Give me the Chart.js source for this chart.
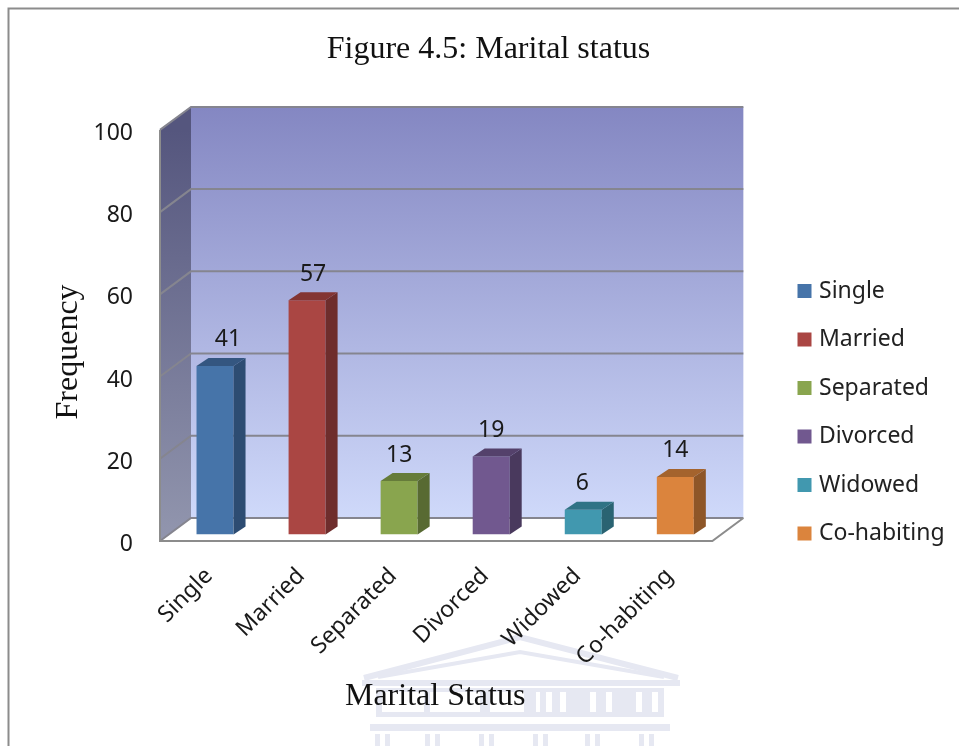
<!DOCTYPE html>
<html><head><meta charset="utf-8">
<script src="https://cdn.jsdelivr.net/npm/chart.js@4"></script>
<style>html,body{margin:0;padding:0;background:#fff}canvas{display:block}</style>
</head><body><canvas id="c" width="959" height="746"></canvas>
<script>
const categories = ["Single","Married","Separated","Divorced","Widowed","Co-habiting"];
const frequency = [41,57,13,19,6,14];
const yTicks = [0,20,40,60,80,100];
const frontColors = ["#4674A9","#AA4643","#89A54E","#71588F","#4198AF","#DB843D"];
const sideColors  = ["#2D4C72","#6E2D2C","#586A32","#49395D","#2A6372","#8E5628"];
const topColors   = ["#345680","#833533","#667C3A","#54416B","#307385","#A4632D"];
const labelShift = [13,6,0,0,-1,0];
const SANS = '"Noto Sans"', SERIF = '"Liberation Serif"';
const WALL = {dx:22, dy:-16.5}, FRONT = {dx:-9, dy:6.5}, BAR = {dx:12, dy:-8};

function poly(ctx, pts, fill, stroke, lw){
  ctx.beginPath(); pts.forEach((p,i)=> i?ctx.lineTo(p[0],p[1]):ctx.moveTo(p[0],p[1])); ctx.closePath();
  if(fill){ctx.fillStyle=fill;ctx.fill();}
  if(stroke){ctx.strokeStyle=stroke;ctx.lineWidth=lw||1;ctx.stroke();}
}
const scene = {
  id:'scene',
  afterLayout(chart){
    const t=chart.titleBlock; t.left+=38.5; t.right+=38.5;
    const l=chart.legend, dy=254-l.top, dx=776-l.left;
    l.top+=dy; l.bottom+=dy; l.left+=dx; l.right+=dx;
  },
  beforeDraw(chart){
    const c=chart.ctx;
    const xs=chart.scales.x, ys=chart.scales.y;
    if(!xs._moved){ xs._moved=true; const o=xs.drawTitle;
      xs.drawTitle=function(){c.save();c.translate(-10,0);o.apply(this,arguments);c.restore();}; }
    if(!ys._moved){ ys._moved=true; const o=ys.drawTitle;
      ys.drawTitle=function(){c.save();c.translate(0,23);o.apply(this,arguments);c.restore();}; }
    c.save();
    c.fillStyle='#fff'; c.fillRect(0,0,chart.width,chart.height);
    // page watermark
    c.fillStyle='#e6e8f2'; c.strokeStyle='#e6e8f2';
    c.lineWidth=6; c.beginPath(); c.moveTo(364,678); c.lineTo(520,637); c.lineTo(678,678); c.stroke();
    c.lineWidth=4; c.beginPath(); c.moveTo(378,677); c.lineTo(520,652); c.lineTo(664,677); c.stroke();
    c.fillRect(362,680,318,6); c.fillRect(376,688,288,4);
    [[376,6],[424,6],[480,10],[524,12],[540,6],[552,8],[566,24],[596,10],[612,24],[642,10],[658,6]].forEach(a=>c.fillRect(a[0],692,a[1],20));
    c.fillRect(376,712,288,5);
    c.fillRect(370,724,300,7);
    [382,432,486,540,592,646].forEach(x=>{c.fillRect(x-7,734,5,12);c.fillRect(x+3,734,5,12);});
    // frame
    c.strokeStyle='#8c8c8c'; c.lineWidth=2;
    c.beginPath(); c.moveTo(8.5,746); c.lineTo(8.5,8.5); c.lineTo(959,8.5); c.stroke();
    c.restore();
  },
  beforeDatasetsDraw(chart){
    const c=chart.ctx, a=chart.chartArea, y=chart.scales.y;
    const px=v=>y.getPixelForValue(v);
    const wl=a.left+WALL.dx, wr=a.right+WALL.dx, fl=a.left+FRONT.dx, fr=a.right+FRONT.dx;
    const w=v=>px(v)+WALL.dy, f=v=>px(v)+FRONT.dy;
    c.save();
    let g=c.createLinearGradient(0,w(100),0,w(0));
    g.addColorStop(0,'#8487C2'); g.addColorStop(1,'#CFD9FA');
    c.fillStyle=g; c.fillRect(wl,w(100),wr-wl,w(0)-w(100));
    g=c.createLinearGradient(0,f(100),0,f(0));
    g.addColorStop(0,'#55567E'); g.addColorStop(1,'#9296AE');
    poly(c,[[fl,f(100)],[wl,w(100)],[wl,w(0)],[fl,f(0)]],g);
    poly(c,[[fl,f(0)],[wl,w(0)],[wr,w(0)],[fr,f(0)]],'#fff');
    c.strokeStyle='#85858F'; c.lineWidth=2;
    yTicks.forEach(v=>{
      c.beginPath(); c.moveTo(fl,f(v)); c.lineTo(wl,w(v)); c.lineTo(wr,w(v)); c.stroke();
    });
    c.strokeStyle='#8C8C8C';
    c.beginPath(); c.moveTo(fl,f(100)); c.lineTo(fl,f(0)); c.lineTo(fr,f(0)); c.lineTo(wr,w(0)); c.stroke();
    c.restore();
  },
  afterDatasetsDraw(chart){
    const c=chart.ctx;
    c.save();
    chart.getDatasetMeta(0).data.forEach((b,i)=>{
      const l=b.x-b.width/2, r=b.x+b.width/2;
      poly(c,[[r,b.y],[r+BAR.dx,b.y+BAR.dy],[r+BAR.dx,b.base+BAR.dy],[r,b.base]],sideColors[i]);
      poly(c,[[l,b.y],[l+BAR.dx,b.y+BAR.dy],[r+BAR.dx,b.y+BAR.dy],[r,b.y]],topColors[i]);
      c.fillStyle='#1a1a1a'; c.font='23px '+SANS; c.textAlign='center'; c.textBaseline='middle';
      c.fillText(String(frequency[i]), b.x+labelShift[i], b.y-26);
    });
    c.restore();
  }
};
new Chart(document.getElementById('c'),{
  type:'bar',
  data:{labels:categories,datasets:[{data:frequency,backgroundColor:frontColors,borderWidth:0,
        barPercentage:0.402,categoryPercentage:1}]},
  options:{
    responsive:false,animation:false,devicePixelRatio:1,
    layout:{padding:{left:0,right:59,top:0,bottom:0}},
    plugins:{
      tooltip:{enabled:false},
      title:{display:true,text:'Figure 4.5: Marital status',color:'#111',
        font:{family:SERIF,size:32,weight:'normal'},padding:{top:30,bottom:55}},
      legend:{display:true,position:'right',align:'start',
        labels:{usePointStyle:true,boxWidth:6,boxHeight:14,padding:25.5,color:'#222',font:{family:SANS,size:23},
          generateLabels:()=>categories.map((t,i)=>({text:t,fillStyle:frontColors[i],strokeStyle:frontColors[i],lineWidth:0,index:i,fontColor:'#222',pointStyle:'rect'}))}}
    },
    scales:{
      x:{type:'category',grid:{display:false},border:{display:false},
        afterFit(s){s.height=211.5;},
        ticks:{color:'#1a1a1a',font:{family:SANS,size:23},minRotation:45,maxRotation:45,padding:20,labelOffset:-6,autoSkip:false},
        title:{display:true,text:'Marital Status',color:'#111',font:{family:SERIF,size:32,weight:'normal'},padding:{bottom:30,top:0}}},
      y:{type:'linear',min:0,max:100,grid:{display:false},border:{display:false},
        afterFit(s){s.width=169;},
        afterBuildTicks(s){s.ticks=yTicks.map(v=>({value:v}));},
        ticks:{color:'#1a1a1a',font:{family:SANS,size:23},padding:28,labelOffset:10},
        title:{display:true,text:'Frequency',color:'#111',font:{family:SERIF,size:32,weight:'normal'},padding:{top:49,bottom:0}}}
    }
  },
  plugins:[scene]
});
</script></body></html>
